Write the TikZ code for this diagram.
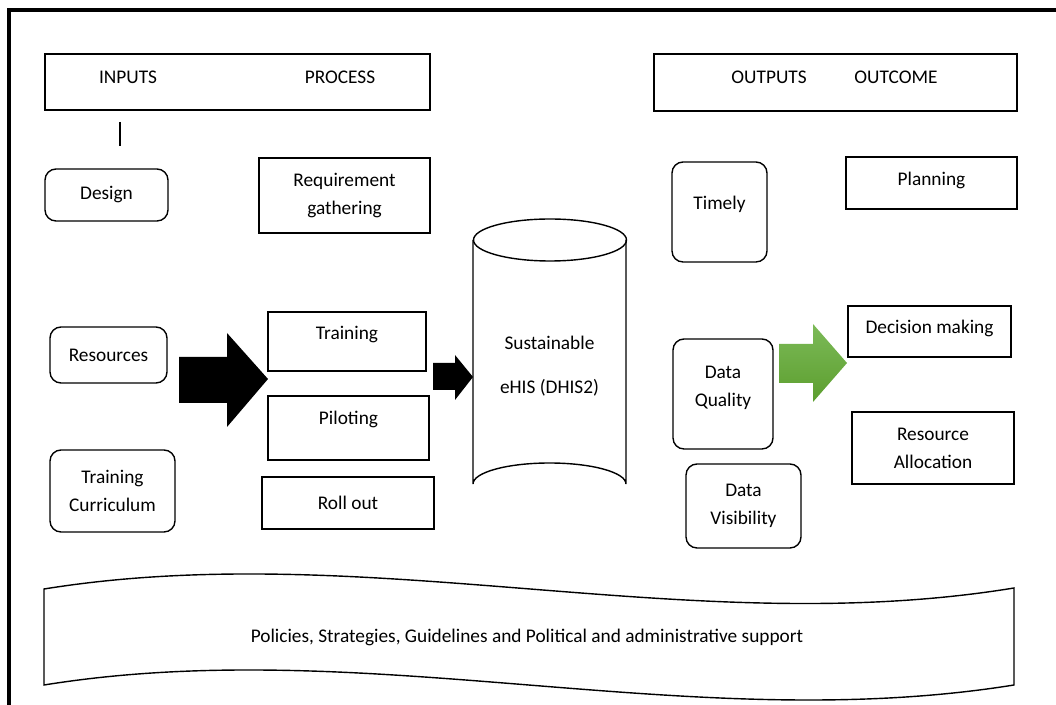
\documentclass[tikz,border=0pt]{standalone}
\usepackage{fontspec}
\setmainfont{Carlito}
\begin{document}
\begin{tikzpicture}[x=0.02cm,y=-0.02cm,
  every node/.style={font=\fontsize{11}{16}\selectfont, align=center, inner sep=0pt},
  box/.style={draw, line width=0.8pt, minimum width=#1},
  rbox/.style={draw, line width=0.8pt, rounded corners=0.22cm, minimum width=#1},
  lbl/.style={font=\fontsize{11}{16}\selectfont},
  blockarrow/.style={fill=black, draw=none},
  greenarrow/.style={draw=none, top color=arrowtop, bottom color=arrowbot},
]
\definecolor{arrowtop}{RGB}{124,186,88}
\definecolor{arrowbot}{RGB}{92,158,46}
\useasboundingbox (0,0) rectangle (1056,705);
% page frame
\draw[line width=2.3pt] (9,705) -- (9,10) -- (1060,10);

% headers
\node[box=7.7cm, minimum height=1.12cm] (hdrL) at (237.5,82) {};
\node[lbl] (inputs) at (128,77) {INPUTS};
\node[lbl] (process) at (340,77) {PROCESS};
\node[box=7.26cm, minimum height=1.14cm] (hdrR) at (835.5,82.5) {};
\node[lbl] (outputs) at (769,77) {OUTPUTS};
\node[lbl] (outcome) at (896,77) {OUTCOME};
\coordinate (tickA) at (120,122);
\coordinate (tickB) at (120,146);
\draw[line width=0.8pt] (tickA) -- (tickB);

% inputs
\node[rbox=2.46cm, minimum height=1.04cm] (design) at (106.5,195) {Design};
\node[rbox=2.34cm, minimum height=1.12cm] (resources) at (108.5,355) {Resources};
\node[rbox=2.5cm, minimum height=1.64cm] (curriculum) at (112.5,491) {Training\\Curriculum};

% process
\node[box=3.42cm, minimum height=1.5cm] (req) at (344.5,195.5) {Requirement\\gathering};
\node[box=3.16cm, minimum height=1.18cm, text depth=9.7pt] (training) at (347,341.5) {Training};
\node[box=3.22cm, minimum height=1.28cm, text depth=11.4pt] (piloting) at (348.5,428) {Piloting};
\node[box=3.44cm, minimum height=1.04cm] (rollout) at (348,503) {Roll out};

% cylinder
\draw[line width=0.8pt, fill=white] (473,240) -- (473,484) arc[start angle=180, end angle=360, x radius=76.5, y radius=21] -- (626,240);
\draw[line width=0.8pt] (550,240) ellipse [x radius=76.5, y radius=21];
\node[minimum width=3.06cm, minimum height=4.9cm] (ehis) at (549.5,366) {Sustainable\\[9pt]eHIS (DHIS2)};

% block arrows
\fill[blockarrow] (179,357) -- (227,357) -- (227,333) -- (268,379) -- (227,427) -- (227,403) -- (179,403) -- cycle;
\fill[blockarrow] (433,363) -- (455,363) -- (455,355) -- (473,377) -- (455,400) -- (455,390) -- (433,390) -- cycle;

% outputs
\node[rbox=1.9cm, minimum height=2.0cm, text depth=10.4pt] (timely) at (719.5,212) {Timely};
\node[rbox=2.0cm, minimum height=2.2cm, text depth=8.7pt] (quality) at (723,394) {Data\\Quality};
\node[rbox=2.3cm, minimum height=1.68cm] (visibility) at (743.5,506) {Data\\Visibility};

\path[greenarrow] (779,344) -- (813,344) -- (813,324) -- (847,363) -- (813,402) -- (813,383) -- (779,383) -- cycle;

% outcomes
\node[box=3.42cm, minimum height=1.04cm, text depth=4.5pt] (planning) at (931.5,183) {Planning};
\node[box=3.26cm, minimum height=1.02cm, text depth=5pt] (decision) at (929.5,331.5) {Decision making};
\node[box=3.24cm, minimum height=1.44cm] (alloc) at (933,448) {Resource\\Allocation};

% banner
\draw[line width=0.8pt] (44,589) .. controls (367,537) and (690,641) .. (1014,588) -- (1014,685) .. controls (690,737) and (367,633) .. (44,685) -- cycle;
\node[font=\fontsize{11}{14}\selectfont] (policies) at (527,637) {Policies, Strategies, Guidelines and Political and administrative support};
\end{tikzpicture}
\end{document}
